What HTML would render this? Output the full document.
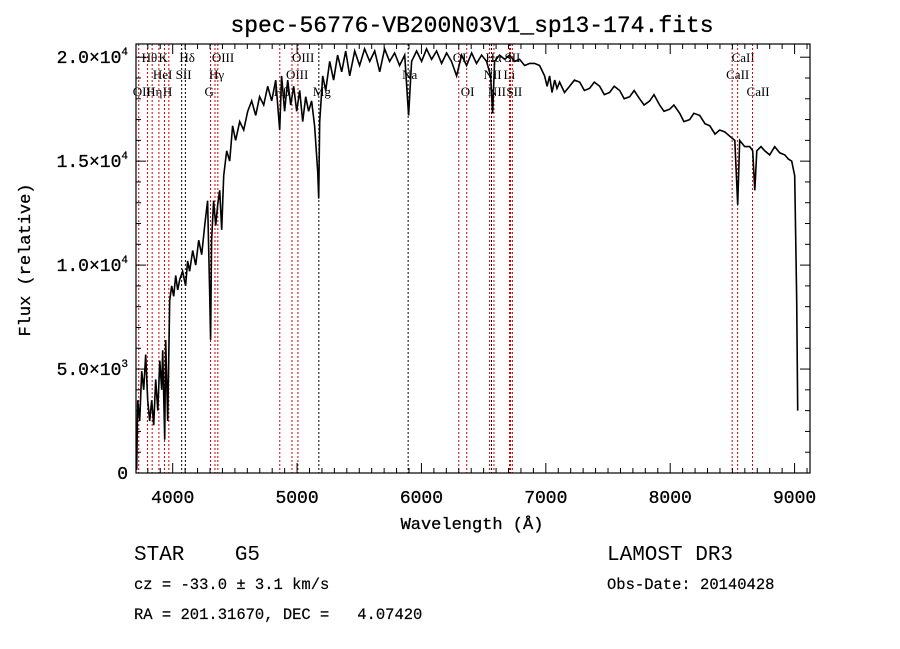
<!DOCTYPE html>
<html><head><meta charset="utf-8"><style>
body{margin:0;background:#fff;}
svg{display:block;font-family:"Liberation Mono",monospace;}
.lbl{font-family:"Liberation Serif",serif;font-size:13px;fill:#000;}
</style></head><body>
<svg id="chart" width="900" height="649" viewBox="0 0 900 649">
<rect width="900" height="649" fill="#fff"/>
<text x="472" y="32" text-anchor="middle" font-size="23" stroke="#000" stroke-width="0.3">spec-56776-VB200N03V1_sp13-174.fits</text>
<g id="lines"></g>
<g id="spec"></g>
<g id="axes"></g>
<text x="472" y="529" text-anchor="middle" font-size="17" stroke="#000" stroke-width="0.3">Wavelength (Å)</text>
<text transform="translate(30,260) rotate(-90)" text-anchor="middle" font-size="17" stroke="#000" stroke-width="0.3">Flux (relative)</text>
<text x="134" y="560" font-size="21" xml:space="preserve">STAR    G5</text>
<text x="607" y="560" font-size="21">LAMOST DR3</text>
<text x="134" y="589" font-size="15.5" stroke="#000" stroke-width="0.2">cz = -33.0 ± 3.1 km/s</text>
<text x="607" y="589" font-size="15.5" stroke="#000" stroke-width="0.2">Obs-Date: 20140428</text>
<text x="134" y="619" font-size="15.5" stroke="#000" stroke-width="0.2" xml:space="preserve">RA = 201.31670, DEC =   4.07420</text>
</svg>
<script>
const wave=[3711,3719,3735,3751,3767,3783,3799,3815,3831,3847,3863,3880,3896,3912,3920,3936,3944,3960,3976,3992,4008,4024,4040,4056,4080,4104,4120,4136,4161,4185,4209,4233,4257,4281,4297,4305,4313,4329,4346,4362,4378,4394,4410,4434,4458,4482,4506,4539,4571,4603,4635,4667,4699,4732,4764,4796,4828,4860,4876,4900,4925,4949,4973,4997,5021,5045,5069,5093,5117,5141,5166,5174,5182,5206,5230,5262,5294,5326,5359,5391,5423,5463,5503,5543,5584,5624,5664,5704,5744,5784,5824,5865,5897,5921,5961,6001,6041,6082,6122,6162,6202,6242,6283,6323,6363,6403,6443,6484,6524,6556,6572,6588,6628,6669,6709,6749,6789,6829,6870,6910,6950,6990,7010,7030,7050,7071,7090,7111,7150,7191,7230,7272,7310,7352,7390,7433,7470,7513,7550,7594,7630,7674,7710,7754,7790,7835,7870,7915,7950,7996,8030,8076,8110,8157,8190,8237,8280,8318,8360,8398,8440,8478,8519,8543,8559,8599,8639,8663,8680,8696,8730,8760,8800,8840,8880,8921,8950,8977,9001,9017,9025];
const flux=[150,3500,2500,4900,4000,5700,3500,2500,3500,2300,4500,3000,5400,4000,5900,1600,6400,2500,8300,9000,8500,9500,8800,9300,9700,9000,10200,9700,10700,10000,11200,10500,11900,13100,8800,6400,11200,13100,11900,12900,13600,11700,14300,15500,15000,16700,16000,16900,16500,17400,17900,17200,18100,17700,18600,17900,18900,16500,19100,17400,18900,17700,18600,17400,18400,16900,18100,17400,17900,16700,14500,13200,16900,19100,18400,19800,18900,20100,19300,20300,19100,20300,19600,20400,19800,20300,19300,20400,19800,20200,19600,20100,17200,19800,20300,19800,20400,19900,20300,19700,20200,19800,19100,20100,19600,20200,19700,20100,19800,19100,17300,19800,20100,19900,20100,19800,19900,19600,19700,19700,19600,19100,18600,19100,18300,18900,18500,18800,18300,18600,18900,18800,18400,18500,18800,18600,18200,18300,18600,18400,18000,18100,18400,18000,17700,17900,18200,17700,17400,17500,17700,17300,16900,17000,17300,17200,16800,16700,16300,16500,16400,16200,16000,12900,16000,15700,15700,15500,13600,15500,15700,15500,15300,15700,15400,15300,15100,15000,14300,8300,3000];
const lineWaves=[3727,3798,3835,3889,3934,3969,4072,4102,4304,4340,4363,4861,4959,5007,5175,5893,6300,6364,6548,6563,6583,6708,6716,6731,8498,8542,8662];
const lineBlack=[0,0,0,0,0,0,1,1,0,0,0,0,0,0,1,1,0,0,0,1,0,0,0,0,0,0,0];
const lineNames=["OII","Hθ","Hη","HeI","K","H","SII","Hδ","G","Hγ","OIII","Hβ","OIII","OIII","Mg","Na","OI","OI","NII","Hα","NII","Li","SII","SII","CaII","CaII","CaII"];
const lineRow=[2,0,2,1,0,2,1,0,2,1,0,2,1,0,2,1,0,2,1,0,2,1,0,2,1,0,2];
const xTicks=[4000,5000,6000,7000,8000,9000];
const yTicks=[0,5000,10000,15000,20000];
const yTickLabels=["0","5.0×10<tspan dy='-8' font-size='11'>3</tspan>","1.0×10<tspan dy='-8' font-size='11'>4</tspan>","1.5×10<tspan dy='-8' font-size='11'>4</tspan>","2.0×10<tspan dy='-8' font-size='11'>4</tspan>"];

const L=136,R=810,T=44,B=473,W0=3705,W1=3705+(R-L)*8.04,F1=(B-T)*48.1;
const sx=w=>L+(w-W0)/(W1-W0)*(R-L);
const sy=f=>B-f/F1*(B-T);
const NS="http://www.w3.org/2000/svg";
function mk(tag,attrs,parent){const e=document.createElementNS(NS,tag);for(const k in attrs)e.setAttribute(k,attrs[k]);parent.appendChild(e);return e;}
const gl=document.getElementById('lines'),gs=document.getElementById('spec'),ga=document.getElementById('axes');
lineWaves.forEach((w,i)=>{
  const x=sx(w);
  const ln=mk('line',{x1:x,x2:x,y1:T,y2:B,stroke:lineBlack[i]?'#000':'#c00','stroke-width':1,'stroke-dasharray':'2,2'},gl);
  
  
  const t=mk('text',{x:x-6,y:62+lineRow[i]*17,class:'lbl'},gl);
  t.textContent=lineNames[i];
  
  
});
const pts=wave.map((w,i)=>sx(w).toFixed(1)+','+sy(flux[i]).toFixed(1)).join(' ');
const pl=mk('polyline',{points:pts,fill:'none',stroke:'#000','stroke-width':1.6},gs);


const fr=mk('rect',{x:L,y:T,width:R-L,height:B-T,fill:'none',stroke:'#000','stroke-width':1.2},ga);


for(let w=3800;w<=W1;w+=100){const x=sx(w),maj=w%1000===0,len=maj?10:5;
  mk('line',{x1:x,x2:x,y1:B,y2:B-len,stroke:'#000'},ga);mk('line',{x1:x,x2:x,y1:T,y2:T+len,stroke:'#000'},ga);}
for(let f=1000;f<=F1;f+=1000){const y=sy(f),maj=f%5000===0,len=maj?10:5;
  mk('line',{x1:L,x2:L+len,y1:y,y2:y,stroke:'#000'},ga);mk('line',{x1:R,x2:R-len,y1:y,y2:y,stroke:'#000'},ga);}
xTicks.forEach(w=>{const t=mk('text',{x:sx(w),y:503,'text-anchor':'middle','font-size':18,stroke:'#000','stroke-width':0.3},ga);t.textContent=w;
  
  });
yTicks.forEach((f,i)=>{const t=mk('text',{x:128,y:sy(f)+6,'text-anchor':'end','font-size':18,stroke:'#000','stroke-width':0.3},ga);t.innerHTML=yTickLabels[i];
  
  });
</script>
</body></html>
